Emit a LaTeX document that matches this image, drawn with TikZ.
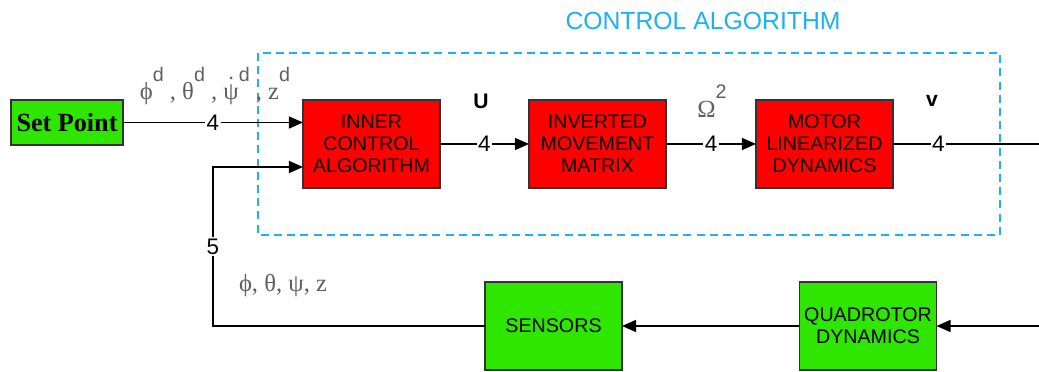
\documentclass[tikz,border=0pt]{standalone}
\usepackage{fontspec}
\setmainfont{Liberation Sans}
\newfontfamily\grkfont{Liberation Serif}
\usepackage{xcolor}
\usetikzlibrary{arrows.meta,positioning}

\definecolor{blkred}{HTML}{FF0000}
\definecolor{blkgreen}{HTML}{2EE600}
\definecolor{ctrlblue}{HTML}{1EB0F0}
\definecolor{lblgray}{HTML}{606060}

\newcommand{\dsup}[1]{\raisebox{13pt}{\fontspec{Liberation Sans}\fontsize{14}{14}\selectfont #1}}
\newcommand{\psidot}{{\ooalign{ψ\cr\hidewidth\raisebox{0.55ex}{˙}\hidewidth\cr}}}

\begin{document}
\begin{tikzpicture}[x=0.025cm,y=-0.025cm,
  box/.style={draw=black!80,rectangle,line width=1pt,minimum width=3.425cm,
              minimum height=2.2cm,inner sep=0pt,outer sep=0pt,align=center,
              font=\fontsize{14}{15.6}\selectfont},
  ctrl/.style ={box,fill=blkred},
  plant/.style={box,fill=blkgreen},
  arr/.style  ={-{Triangle[length=3.5mm,width=3mm]},line width=1pt},
  ln/.style   ={line width=1pt},
  num/.style  ={fill=white,inner sep=1pt,font=\fontsize{16}{16}\selectfont},
  sig/.style  ={font=\fontsize{15}{15}\selectfont\bfseries,inner sep=0pt},
  grk/.style  ={text=lblgray,font=\grkfont\fontsize{17.5}{17.5}\selectfont,inner sep=0pt}
]
\useasboundingbox (0,0) rectangle (1039,372);

%% Control algorithm frame
\draw[ctrlblue,line width=2pt,dash pattern=on 2mm off 1.3mm]
    (258,53) rectangle (1000,235);
\node[text=ctrlblue,font=\fontsize{17.6}{17.6}\selectfont] (title) at (703,21) {CONTROL ALGORITHM};

%% Top row
\node[plant,minimum width=2.8cm,minimum height=1.125cm,
      font=\fontsize{18.6}{18.6}\selectfont\grkfont\bfseries] (sp) at (67,122.5) {Set Point};
\node[ctrl] (inner) at (371.5,144) {INNER\\CONTROL\\ALGORITHM};
\node[ctrl] (inv)   at (597.5,144) {INVERTED\\MOVEMENT\\MATRIX};
\node[ctrl] (motor) at (824.5,144) {MOTOR\\LINEARIZED\\DYNAMICS};

%% Bottom row
\node[plant] (sens) at (553.5,326) {SENSORS};
\node[plant] (quad) at (868,326)   {QUADROTOR\\DYNAMICS};

%% Helper points
\coordinate (outR)     at (1039,144);
\coordinate (inR)      at (1039,326);
\coordinate (fbcorner) at (213,326);
\coordinate (fbtop)    at (213,167);

%% Forward path
\draw[arr] (sp.east) -- node[num]{4} (sp.east -| inner.west);
\draw[arr] (inner.east) -- node[num]{4} (inv.west);
\draw[arr] (inv.east)   -- node[num]{4} (motor.west);
\draw[ln]  (motor.east) -- node[num,pos=0.31]{4} (outR);

%% Feedback path
\draw[arr] (inR) -- (quad.east);
\draw[arr] (quad.west) -- (sens.east);
\draw[arr] (sens.west) -- (fbcorner) -- node[num]{5} (fbtop) -- (fbtop -| inner.west);

%% Signal labels
\node[sig] (lblU) at (481,101) {U};
\node[grk] (lblO) at (712,101) {Ω\dsup{2}};
\node[sig] (lblv) at (932,101) {v};
\node[grk,anchor=base] (lblref) at (215,100)
    {ϕ\dsup{d} , θ\dsup{d} , \psidot\dsup{d} , z\dsup{d}};
\node[grk,anchor=base] (lblmeas) at (283,292) {ϕ, θ, ψ, z};
\end{tikzpicture}
\end{document}
